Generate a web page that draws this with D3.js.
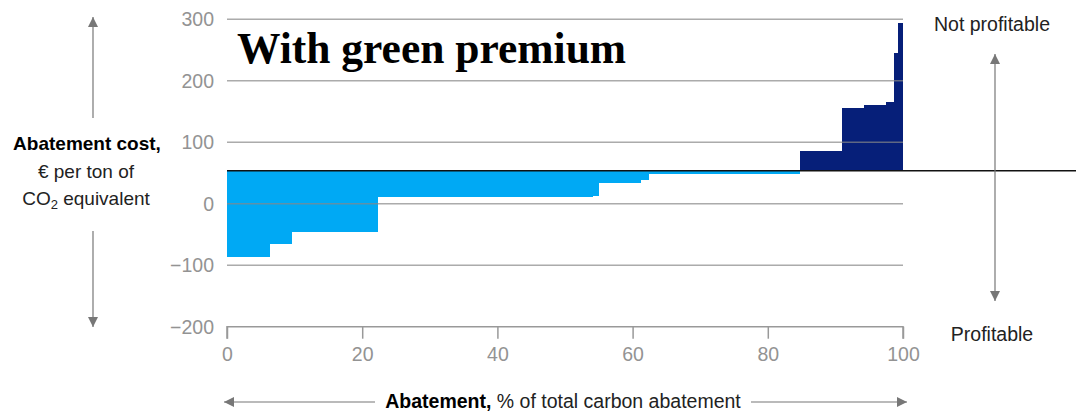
<!DOCTYPE html>
<html>
<head>
<meta charset="utf-8">
<script src="https://cdn.jsdelivr.net/npm/d3@7"></script>
<style>
  body { margin: 0; background: #fff; }
  svg { display: block; font-family: "Liberation Sans", Arial, sans-serif; }
</style>
</head>
<body>
<div id="chart"></div>
<script>
// cumulative abatement (%) where each block ends, and its cost (€/t CO2e)
const blockEnds = [6.4, 9.6, 22.3, 54.1, 55.0, 61.2, 62.4, 84.8, 91.0, 94.2, 97.5, 98.7, 99.3, 100]
const blockCosts = [-86, -65, -46, 11, 13, 34, 38, 48, 85, 155, 160, 165, 245, 294]
const greenPremium = 53.5
const yTicks = [300, 200, 100, 0, -100, -200]
const xTicks = [0, 20, 40, 60, 80, 100]

const width = 1076
const height = 419

const blocks = blockEnds.map((end, i) => ({
  start: i === 0 ? 0 : blockEnds[i - 1],
  end: end,
  cost: blockCosts[i]
}))

const svg = d3.select("#chart")
  .append("svg")
  .attr("width", width)
  .attr("height", height)

const x = d3.scaleLinear().domain([0, 100]).range([227, 903])
const y = d3.scaleLinear().domain([-200, 300]).range([326.7, 19.3])

const defs = svg.append("defs")
defs.append("marker")
  .attr("id", "head")
  .attr("viewBox", "0 0 10 10")
  .attr("refX", 10)
  .attr("refY", 5)
  .attr("markerWidth", 10)
  .attr("markerHeight", 10)
  .attr("markerUnits", "userSpaceOnUse")
  .attr("orient", "auto")
  .append("path")
  .attr("d", "M0,0L10,5L0,10Z")
  .attr("fill", "#777")

// BARS from the green premium line
svg.append("g")
  .selectAll("rect")
  .data(blocks)
  .join("rect")
  .attr("x", d => x(d.start))
  .attr("width", d => x(d.end) - x(d.start))
  .attr("y", d => y(Math.max(d.cost, greenPremium)))
  .attr("height", d => Math.abs(y(d.cost) - y(greenPremium)))
  .attr("fill", d => d.cost < greenPremium ? "#00a9f4" : "#061f79")
  .attr("shape-rendering", "crispEdges")

// GRIDLINES on top of bars
svg.append("g")
  .selectAll("line")
  .data(yTicks.filter(d => d !== -200))
  .join("line")
  .attr("x1", x(0))
  .attr("x2", x(100))
  .attr("y1", d => y(d))
  .attr("y2", d => y(d))
  .attr("stroke", "#888")
  .attr("stroke-opacity", 0.7)
  .attr("stroke-width", 1.5)

// Y TICK LABELS
svg.append("g")
  .selectAll("text")
  .data(yTicks)
  .join("text")
  .attr("x", 214)
  .attr("y", d => y(d) + 7)
  .attr("text-anchor", "end")
  .attr("fill", "#939393")
  .style("font-size", "19.5px")
  .text(d => d < 0 ? "\u2212" + Math.abs(d) : d)

// X AXIS
const xAxis = svg.append("g")
  .attr("transform", "translate(0," + y(-200) + ")")
  .call(d3.axisBottom(x).tickValues(xTicks).tickSize(12).tickPadding(8).tickFormat(d => d))
xAxis.select(".domain").attr("stroke", "#999").attr("stroke-width", 1.5).attr("d", "M" + x(0) + ",12V0H" + x(100) + "V12")
xAxis.selectAll(".tick line").attr("stroke", "#999").attr("stroke-width", 1.5)
xAxis.selectAll(".tick text")
  .attr("fill", "#939393")
  .style("font-size", "19.5px")
  .style("font-family", "Liberation Sans, Arial, sans-serif")

// GREEN PREMIUM LINE
svg.append("line")
  .attr("x1", x(0))
  .attr("x2", width)
  .attr("y1", y(greenPremium))
  .attr("y2", y(greenPremium))
  .attr("stroke", "#111")
  .attr("stroke-width", 1.5)

// TITLE
svg.append("text")
  .attr("x", 237)
  .attr("y", 62.5)
  .style("font-family", "Liberation Serif, serif")
  .style("font-weight", "bold")
  .style("font-size", "43.5px")
  .attr("fill", "#000")
  .text("With green premium")

// LEFT LABEL + ARROWS
const left = svg.append("g").attr("text-anchor", "middle").attr("fill", "#222").style("font-size", "19px")
left.append("text").attr("x", 87).attr("y", 150).style("font-weight", "bold").attr("fill", "#000").text("Abatement cost,")
left.append("text").attr("x", 86).attr("y", 177.5).text("€ per ton of")
const co2 = left.append("text").attr("x", 86).attr("y", 205)
co2.append("tspan").text("CO")
co2.append("tspan").attr("dy", 4).style("font-size", "13px").text("2")
co2.append("tspan").attr("dy", -4).text(" equivalent")

svg.append("line")
  .attr("x1", 93).attr("x2", 93).attr("y1", 118).attr("y2", 17)
  .attr("stroke", "#777").attr("stroke-width", 1.2).attr("marker-end", "url(#head)")
svg.append("line")
  .attr("x1", 93).attr("x2", 93).attr("y1", 231).attr("y2", 327)
  .attr("stroke", "#777").attr("stroke-width", 1.2).attr("marker-end", "url(#head)")

// RIGHT LABELS + ARROW
svg.append("text").attr("x", 992).attr("y", 31).attr("text-anchor", "middle")
  .attr("fill", "#222").style("font-size", "19.5px").text("Not profitable")
svg.append("text").attr("x", 992).attr("y", 341).attr("text-anchor", "middle")
  .attr("fill", "#222").style("font-size", "19.5px").text("Profitable")
svg.append("line")
  .attr("x1", 995).attr("x2", 995).attr("y1", 170).attr("y2", 54)
  .attr("stroke", "#777").attr("stroke-width", 1.2).attr("marker-end", "url(#head)")
svg.append("line")
  .attr("x1", 995).attr("x2", 995).attr("y1", 170).attr("y2", 301)
  .attr("stroke", "#777").attr("stroke-width", 1.2).attr("marker-end", "url(#head)")

// BOTTOM LABEL + ARROWS
const bottom = svg.append("text").attr("x", 563).attr("y", 408).attr("text-anchor", "middle")
  .attr("fill", "#222").style("font-size", "19.5px")
bottom.append("tspan").style("font-weight", "bold").attr("fill", "#000").text("Abatement,")
bottom.append("tspan").text(" % of total carbon abatement")
svg.append("line")
  .attr("x1", 375).attr("x2", 224).attr("y1", 402).attr("y2", 402)
  .attr("stroke", "#777").attr("stroke-width", 1.2).attr("marker-end", "url(#head)")
svg.append("line")
  .attr("x1", 751).attr("x2", 907).attr("y1", 402).attr("y2", 402)
  .attr("stroke", "#777").attr("stroke-width", 1.2).attr("marker-end", "url(#head)")
</script>
</body>
</html>
